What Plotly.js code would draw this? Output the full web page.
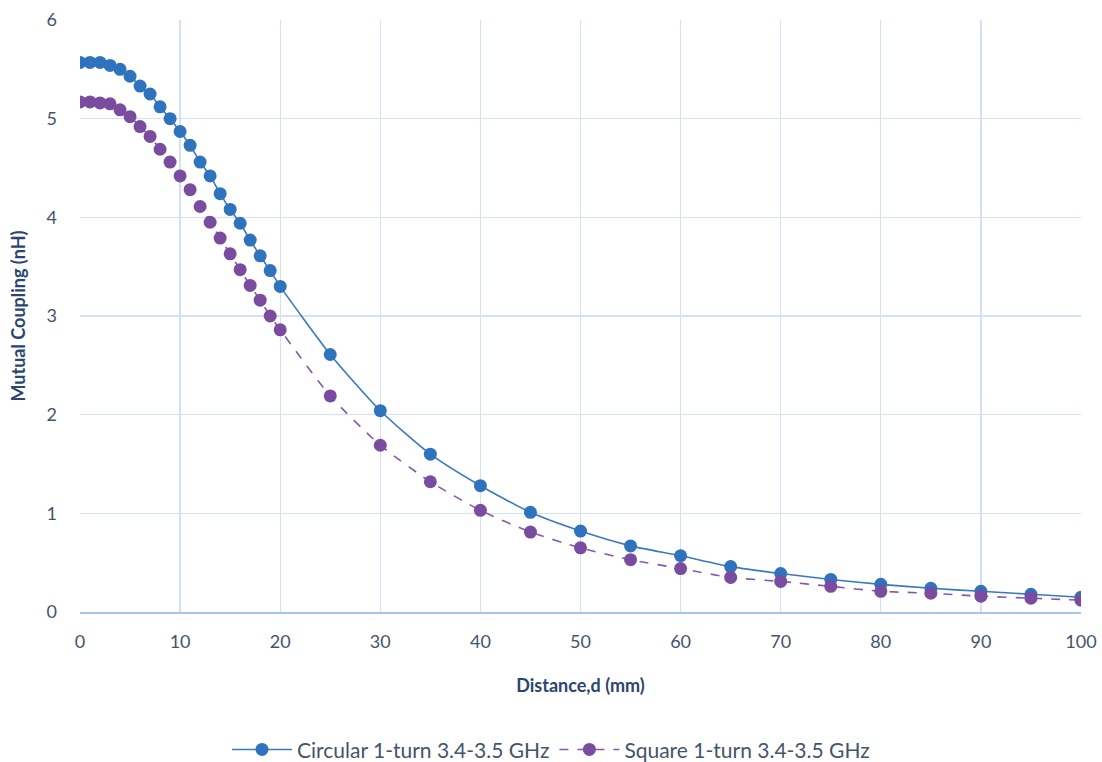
<!DOCTYPE html>
<html>
<head>
<meta charset="utf-8">
<script src="https://cdn.plot.ly/plotly-3.0.1.min.js"></script>
<style>html,body{margin:0;padding:0;background:#fff;}#chart{width:1102px;height:762px;}</style>
</head>
<body>
<div id="chart"></div>
<script>
const distance = [0,1,2,3,4,5,6,7,8,9,10,11,12,13,14,15,16,17,18,19,20,25,30,35,40,45,50,55,60,65,70,75,80,85,90,95,100];
const circular = [5.57,5.57,5.57,5.54,5.50,5.43,5.33,5.25,5.12,5.00,4.87,4.73,4.56,4.42,4.24,4.08,3.94,3.77,3.61,3.46,3.30,2.61,2.04,1.60,1.28,1.01,0.82,0.67,0.57,0.46,0.39,0.33,0.28,0.24,0.21,0.18,0.15];
const square = [5.17,5.17,5.16,5.15,5.09,5.02,4.92,4.82,4.69,4.56,4.42,4.28,4.11,3.95,3.79,3.63,3.47,3.31,3.16,3.00,2.86,2.19,1.69,1.32,1.03,0.81,0.65,0.53,0.44,0.35,0.31,0.26,0.21,0.19,0.16,0.14,0.12];
const seriesNames = ["Circular 1-turn 3.4-3.5 GHz", "Square 1-turn 3.4-3.5 GHz"];

const fontFam = 'Lato, "Open Sans", sans-serif';
const traces = [
  {x: distance, y: circular, name: seriesNames[0], type: 'scatter', mode: 'lines+markers',
   line: {color: '#3a78c0', width: 1.6, shape: 'spline', smoothing: 0.6},
   marker: {color: '#2f72bd', size: 13}},
  {x: distance, y: square, name: seriesNames[1], type: 'scatter', mode: 'lines+markers',
   line: {color: '#8559a8', width: 1.6, dash: 'dash', shape: 'spline', smoothing: 0.6},
   marker: {color: '#7a4c9f', size: 13}}
];
const layout = {
  width: 1102, height: 762,
  margin: {l: 80, r: 21, t: 20, b: 150, autoexpand: false},
  paper_bgcolor: '#fff', plot_bgcolor: '#fff',
  font: {family: fontFam, size: 18, color: '#44546a'},
  xaxis: {range: [0, 100], dtick: 10, tick0: 0, showgrid: true, gridcolor: '#d2e1f5', gridwidth: 1.3,
    zeroline: false, showline: true, linecolor: '#a9c4ea', linewidth: 1.5, ticks: '', ticklen: 0,
    ticklabelstandoff: 13, automargin: false,
    tickfont: {size: 18, color: '#44546a'},
    title: {text: '<b>Distance,d (mm)</b>', font: {size: 18, color: '#2b4570'}, standoff: 28}},
  yaxis: {range: [0, 6], dtick: 1, showgrid: true, gridcolor: '#d2e1f5', gridwidth: 1.3,
    zeroline: false, showline: false, ticks: '', ticklabelstandoff: 22, automargin: false,
    tickfont: {size: 18, color: '#44546a'},
    title: {text: '<b>Mutual Coupling (nH)</b>', font: {size: 18, color: '#2b4570'}, standoff: 16}},
  legend: {orientation: 'h', x: 0.5, xanchor: 'center', xref: 'container', yref: 'container', y: 0.016, yanchor: 'middle',
    font: {size: 21, color: '#44546a'}, itemwidth: 60, tracegroupgap: 0},
  showlegend: true
};
Plotly.newPlot('chart', traces, layout, {displayModeBar: false, staticPlot: true});
</script>
</body>
</html>
